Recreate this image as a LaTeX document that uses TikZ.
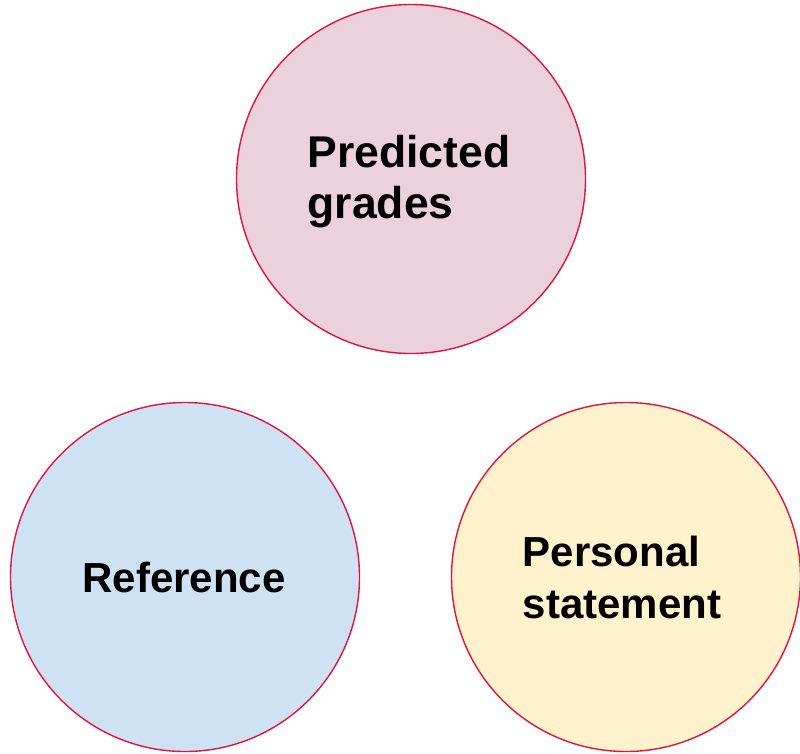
\documentclass[tikz,border=0pt]{standalone}
\usepackage{fontspec}
\setmainfont{Liberation Sans}
\usepackage{tikz}
\usetikzlibrary{positioning}

\definecolor{ringred}{HTML}{E0143C}
\definecolor{gradepink}{HTML}{EAD1DC}
\definecolor{refblue}{HTML}{CFE2F3}
\definecolor{stateyellow}{HTML}{FFF2CC}

\begin{document}
\begin{tikzpicture}[x=1pt,y=-1pt]
    \tikzstyle{part circle}=[circle,draw=ringred,line width=1.4pt,minimum size=349pt,inner sep=0pt]
    \tikzstyle{part text}=[align=left,inner sep=0pt,font=\fontsize{42}{52}\selectfont\bfseries]
    \useasboundingbox (0,0) rectangle (800,753);

    \node(grades)[part circle,fill=gradepink,
        label={[part text,font=\fontsize{44.5}{51}\selectfont\bfseries,xshift=-2pt,yshift=-3pt]center:Predicted\\grades}] at (411,179) {};
    \node(reference)[part circle,fill=refblue,
        label={[part text,xshift=-1pt]center:Reference}] at (185,577) {};
    \node(statement)[part circle,fill=stateyellow,
        label={[part text,xshift=-4pt]center:Personal\\statement}] at (626,577) {};
\end{tikzpicture}
\end{document}
